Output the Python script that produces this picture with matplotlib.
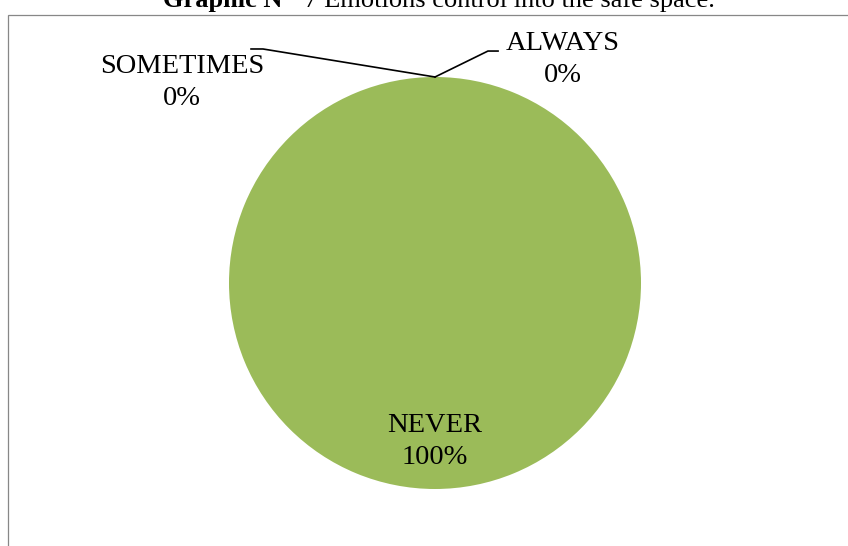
import matplotlib
matplotlib.use("Agg")
import matplotlib.pyplot as plt
from matplotlib.patches import Rectangle
import numpy as np

# ---- data ----
categories = ["ALWAYS", "SOMETIMES", "NEVER"]
values = [0, 0, 100]
pct_labels = ["0%", "0%", "100%"]
title_bold = "Graphic Nº"
title_rest = "  7 Emotions control into the safe space."

# ---- figure ----
W, H = 848, 546
fig = plt.figure(figsize=(W / 100, H / 100), dpi=100)
plt.rcParams["font.family"] = ["Liberation Serif", "DejaVu Serif"]

# chart-area border (extends past right/bottom edges)
fig.patches.append(Rectangle((7.5 / W, -0.1), 1.2, (H - 14.5) / H + 0.1,
                             transform=fig.transFigure, fill=False,
                             edgecolor="#878787", linewidth=0.9))

# title (mostly clipped at the top)
t1 = fig.text(163 / W, 1 - 7 / H, title_bold, fontsize=19, fontweight="bold",
              ha="left", va="baseline")
fig.canvas.draw()
bb = t1.get_window_extent()
fig.text(bb.x1 / W, 1 - 7 / H, title_rest, fontsize=19, ha="left", va="baseline")

# pie axes: center (435,283), radius 206 px
cx, cy, R = 435, 283, 206
ax = fig.add_axes([(cx - R) / W, (H - cy - R) / H, 2 * R / W, 2 * R / H])
wedges, _ = ax.pie(values, startangle=90, counterclock=False, radius=1,
                   colors=["#4F81BD", "#C0504D", "#9BBB59"],
                   wedgeprops=dict(linewidth=0))
ax.set_xlim(-1, 1)
ax.set_ylim(-1, 1)
ax.set_aspect("equal")
ax.axis("off")

# label layout (axes data units, radius = 1)
label_pos = {"ALWAYS": (0.622, 1.085), "SOMETIMES": (-1.228, 0.975), "NEVER": (0.0, -0.77)}
leader = {"ALWAYS": [(0.257, 1.126), (0.306, 1.126)],
          "SOMETIMES": [(-0.835, 1.136), (-0.893, 1.136)]}

for w, cat, pl in zip(wedges, categories, pct_labels):
    x, y = label_pos[cat]
    ax.text(x, y, f"{cat}\n{pl}", ha="center", va="center", fontsize=20.5,
            linespacing=1.38, clip_on=False)
    if cat in leader:
        ang = np.deg2rad((w.theta1 + w.theta2) / 2)
        ax_, ay_ = np.cos(ang), np.sin(ang)
        pts = [(ax_, ay_)] + leader[cat]
        ax.plot([p[0] for p in pts], [p[1] for p in pts], color="black",
                linewidth=1.2, clip_on=False)

fig.savefig("out.png", dpi=100)
